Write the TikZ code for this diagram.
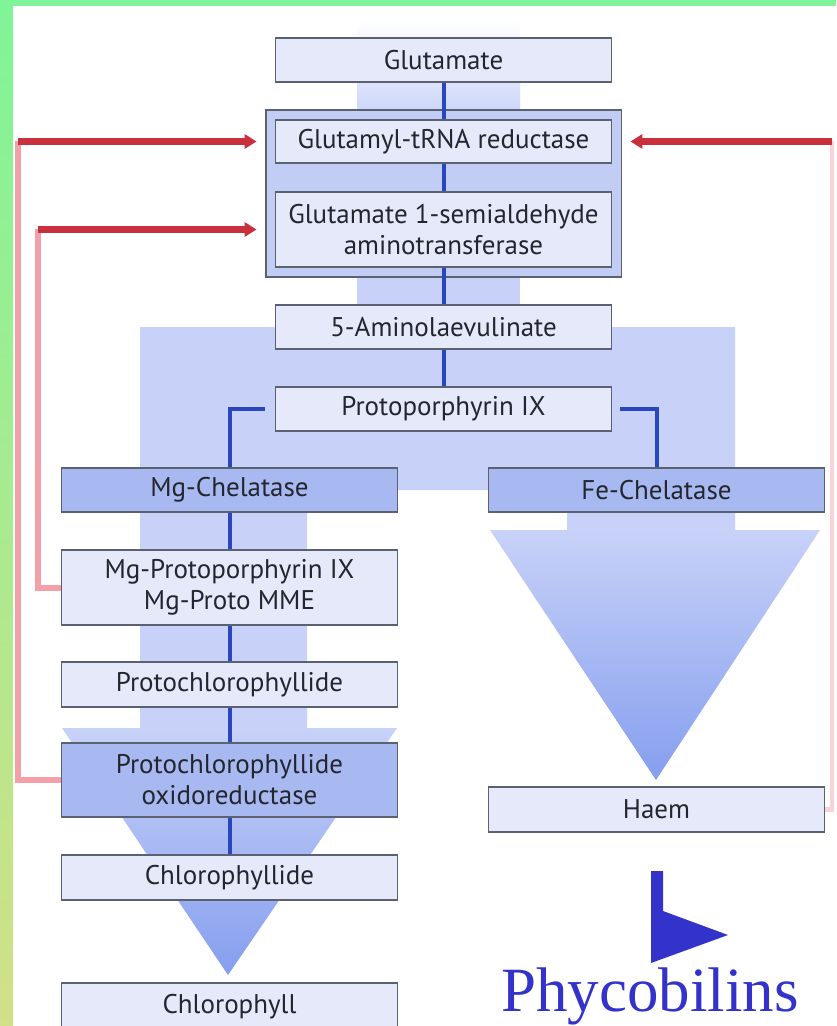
\documentclass[tikz,border=0pt]{standalone}
\usepackage{fontspec}
\setmainfont{PT Sans}
\newfontfamily\phycofont{Liberation Serif}
\usetikzlibrary{arrows.meta,fit,backgrounds}
\definecolor{tpyInk}{HTML}{24262E}
\definecolor{tpyEdge}{HTML}{5A6272}
\definecolor{tpyPale}{HTML}{E6E9FA}
\definecolor{tpyWash}{HTML}{C8D2F8}
\definecolor{tpyFrame}{HTML}{C2CDF6}
\definecolor{tpyEnz}{HTML}{A8B9F2}
\definecolor{tpyDeep}{HTML}{859EEE}
\definecolor{tpyFlow}{HTML}{2A46BE}
\definecolor{tpyRed}{HTML}{C8303E}
\definecolor{tpyPink}{HTML}{F4A0A8}
\definecolor{tpyFaint}{HTML}{FAD3D8}
\definecolor{tpyGreen}{HTML}{80F498}
\definecolor{tpyLime}{HTML}{D2E088}
\definecolor{tpyViolet}{HTML}{3333CC}
\tikzset{
  chembox/.style   = {draw=tpyEdge, line width=0.9pt, fill=tpyPale, align=center,
                      text=tpyInk, inner sep=2pt, minimum width=168pt,
                      font=\fontsize{13.5}{15.5}\selectfont},
  enzbox/.style    = {chembox, fill=tpyEnz},
  framebox/.style  = {draw=tpyEdge, line width=0.9pt, fill=tpyFrame, inner sep=4.5pt},
  flow/.style      = {line width=2pt, draw=tpyFlow},
  inhib/.style     = {-{Triangle[length=6pt, width=7pt]}, line width=3.2pt,
                      draw=tpyRed, shorten >=9pt},
  inhibtrail/.style = {line width=3pt, draw=tpyPink},
  faintrail/.style = {line width=2.4pt, draw=tpyFaint},
}

\begin{document}
\begin{tikzpicture}[x=0.5pt, y=-0.5pt]
  \useasboundingbox (0,0) rectangle (836,1026);

  \begin{scope}[on background layer]
    \fill[white] (0,0) rectangle (836,1026);
    \fill[tpyGreen] (0,0) rectangle (836,6);
    \shade[top color=tpyGreen, bottom color=tpyLime] (0,0) rectangle (13,1026);
    \shade[top color=white, bottom color=tpyWash] (357,20) rectangle (520,120);
    \fill[tpyWash] (357,118) rectangle (520,328);
    \fill[tpyWash] (140,327) -- (735,327) -- (735,532) -- (567,532) -- (567,490)
      -- (307,490) -- (307,730) -- (140,730) -- cycle;
    \shade[top color=tpyWash, bottom color=tpyDeep] (490,530) -- (820,530) -- (656,780) -- cycle;
    \shade[top color=tpyWash, bottom color=tpyDeep] (62,728) -- (397,728) -- (228,975) -- cycle;
  \end{scope}

  % main chain
  \node[chembox, minimum height=22pt]   (glu)  at (443.5,60)    {Glutamate};
  \node[chembox, minimum height=21.5pt] (gtr)  at (443.5,141.5) {Glutamyl-tRNA reductase};
  \node[chembox, minimum height=37.5pt] (gsat) at (443.5,229.5)
    {Glutamate 1-semialdehyde\\aminotransferase};
  \node[chembox, minimum height=22pt]   (ala)  at (443.5,327)   {5-Aminolaevulinate};
  \node[chembox, minimum height=22pt]   (ppix) at (443.5,409)   {Protoporphyrin IX};

  \begin{scope}[on background layer]
    \node[framebox, fit=(gtr)(gsat)] (enzframe) {};
  \end{scope}

  % chlorophyll branch
  \node[enzbox, minimum height=22pt]    (mgchel)  at (229.5,490)   {Mg-Chelatase};
  \node[chembox, minimum height=37.5pt] (mgproto) at (229.5,587.5)
    {Mg-Protoporphyrin IX\\Mg-Proto MME};
  \node[chembox, minimum height=22.5pt] (pchlide) at (229.5,684.5) {Protochlorophyllide};
  \node[enzbox, minimum height=37pt]    (por)     at (229.5,780)
    {Protochlorophyllide\\oxidoreductase};
  \node[chembox, minimum height=22.5pt] (chlide)  at (229.5,877.5) {Chlorophyllide};
  \node[chembox, minimum height=23.5pt] (chl)     at (229.5,1006.5) {Chlorophyll};

  % haem branch
  \node[enzbox, minimum height=22pt]    (fechel) at (656.5,490)   {Fe-Chelatase};
  \node[chembox, minimum height=22.5pt] (haem)   at (656.5,809.5) {Haem};

  \draw[flow] (glu) -- (gtr);
  \draw[flow] (gtr) -- (gsat);
  \draw[flow] (gsat) -- (ala);
  \draw[flow] (ala) -- (ppix);
  \draw[flow, shorten <=5pt] (ppix.west) -| (mgchel);
  \draw[flow, shorten <=4pt] (ppix.east) -| (fechel);
  \draw[flow] (mgchel) -- (mgproto);
  \draw[flow] (mgproto) -- (pchlide);
  \draw[flow] (pchlide) -- (por);
  \draw[flow] (por) -- (chlide);

  % feedback
  \coordinate (outerbend) at (18,141.5);
  \coordinate (innerbend) at (38,229.5);
  \coordinate (rightbend) at (832,141.5);
  \draw[inhibtrail] (por.west) -| (outerbend);
  \draw[inhibtrail] (mgproto.west) -| (innerbend);
  \draw[faintrail] (haem.east) -| (rightbend);
  \draw[inhib] (outerbend) -- (gtr.west);
  \draw[inhib] (innerbend) -- (gsat.west);
  \draw[inhib] (rightbend) -- (gtr.east);

  \fill[tpyViolet] (651,871) -- (663,871) -- (663,911) -- (728,935) -- (651,963) -- cycle;
  \node[font=\phycofont\fontsize{31.5}{36}\selectfont, text=tpyViolet, anchor=base,
        inner sep=0pt] (phyco) at (650,1011) {Phycobilins};
\end{tikzpicture}
\end{document}
